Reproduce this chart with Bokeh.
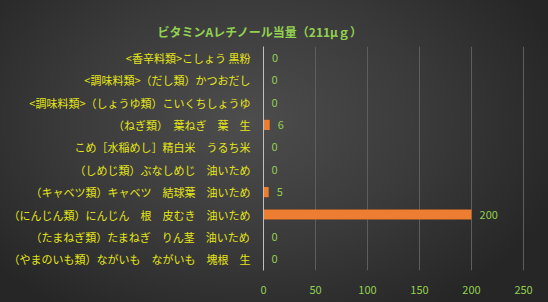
from bokeh.plotting import figure
from bokeh.models import ColumnDataSource, FactorRange, Title
from bokeh.core.properties import value
from bokeh.embed import file_html
from bokeh.resources import INLINE

title_text = "ビタミンAレチノール当量（211μｇ）"
categories = [
    "<香辛料類>こしょう 黒粉",
    "<調味料類>（だし類）かつおだし",
    "<調味料類>（しょうゆ類）こいくちしょうゆ",
    "（ねぎ類）　葉ねぎ　葉　生",
    "こめ［水稲めし］精白米　うるち米",
    "（しめじ類）ぶなしめじ　油いため",
    "（キャベツ類）キャベツ　結球葉　油いため",
    "（にんじん類）にんじん　根　皮むき　油いため",
    "（たまねぎ類）たまねぎ　りん茎　油いため",
    "（やまのいも類）ながいも　ながいも　塊根　生",
]
values = [0.4, 0, 0, 6, 0, 0, 5, 200, 0, 0]
value_labels = ["0", "0", "0", "6", "0", "0", "5", "200", "0", "0"]
x_ticks = [0, 50, 100, 150, 200, 250]

FONT = "Noto Sans CJK JP"

src = ColumnDataSource(dict(cat=categories, val=values, lab=value_labels))

p = figure(
    width=548, height=302,
    y_range=FactorRange(*reversed(categories)),
    x_range=(0, 261.5),
    output_backend="svg", toolbar_location=None,
    min_border_left=263, min_border_right=13,
    min_border_top=46, min_border_bottom=32,
)
p.styles = {"background": "radial-gradient(ellipse 60% 75% at 45% 40%, #4d4d4d 0%, #3a3a3a 55%, #262626 100%)"}
p.background_fill_alpha = 0
p.border_fill_alpha = 0
p.outline_line_color = None

# invisible spacer next to the frame, then the chart title above it
p.add_layout(Title(text=" ", standoff=10, text_font_size="2px",
                   text_alpha=0), "above")
p.add_layout(Title(text=title_text, align="left", offset=-106,
                   text_color="#92d050", text_font=FONT,
                   text_font_size="12px", text_font_style="bold",
                   standoff=14), "above")

# shadow
p.hbar(y="cat", right="val", left=0, height=0.45, source=src,
       fill_color="black", fill_alpha=0.25, line_color=None)
p.hbar(y="cat", right="val", left=0, height=0.45, source=src,
       fill_color="#ed7d31", line_color=None)

p.text(x="val", y="cat", text="lab", source=src, x_offset=8,
       text_color="#92d050", text_font=value(FONT), text_font_size="11px",
       text_align="left", text_baseline="middle")

p.xaxis.ticker = x_ticks
p.xaxis.axis_line_color = None
p.xaxis.major_tick_line_color = None
p.xaxis.minor_tick_line_color = None
p.xaxis.major_label_text_color = "#92d050"
p.xaxis.major_label_text_font = FONT
p.xaxis.major_label_text_font_size = "11px"
p.xaxis.major_label_standoff = 9

p.yaxis.axis_line_color = "#bfbfbf"
p.yaxis.major_tick_line_color = None
p.yaxis.minor_tick_line_color = None
p.yaxis.major_label_text_color = "#e6e619"
p.yaxis.major_label_text_font = FONT
p.yaxis.major_label_text_font_size = "11px"
p.yaxis.major_label_standoff = 7

p.ygrid.grid_line_color = None
p.xgrid.grid_line_color = "#5e5e5e"
p.xgrid.grid_line_width = 1

open("out.html", "w").write(file_html(p, INLINE))
